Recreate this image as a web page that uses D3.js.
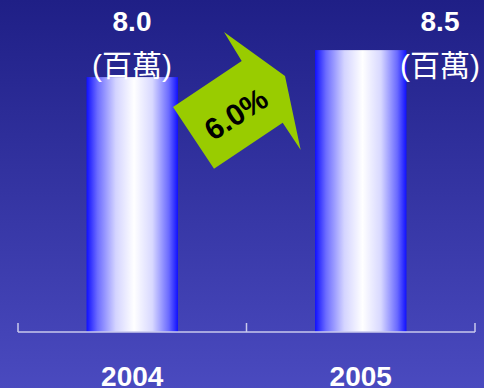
<!DOCTYPE html>
<html><head><meta charset="utf-8">
<script src="https://cdn.jsdelivr.net/npm/d3@7"></script>
<style>html,body{margin:0;padding:0;overflow:hidden;}svg{display:block;}</style>
</head><body>
<script>
const years = ["2004", "2005"];
const values = [8.0, 8.5];
const valueLabels = ["8.0", "8.5"];
const unitLabel = "(百萬)";
const growthLabel = "6.0%";

const W = 484, H = 388;
const svg = d3.select("body").append("svg").attr("width", W).attr("height", H);
const defs = svg.append("defs");
const bg = defs.append("linearGradient").attr("id", "bg").attr("x1", 0).attr("y1", 0).attr("x2", 0).attr("y2", 1);
bg.append("stop").attr("offset", "0%").attr("stop-color", "#1f1f86");
bg.append("stop").attr("offset", "100%").attr("stop-color", "#4a4abf");
const bar = defs.append("linearGradient").attr("id", "bar").attr("x1", 0).attr("y1", 0).attr("x2", 1).attr("y2", 0);
[["0%", "#1010ff"], ["12%", "#6c6cff"], ["32%", "#d4d4ff"], ["52%", "#ffffff"], ["72%", "#d8d8ff"], ["90%", "#6a6aff"], ["100%", "#1010ff"]]
  .forEach(([o, c]) => bar.append("stop").attr("offset", o).attr("stop-color", c));

svg.append("rect").attr("width", W).attr("height", H).attr("fill", "url(#bg)");

const x = d3.scaleBand().domain(years).range([18, 475]).paddingInner(0.6).paddingOuter(0.3);
const y = d3.scaleLinear().domain([3.28, 9.0]).range([332, 23.1]);

svg.selectAll("rect.bar").data(values).join("rect").attr("class", "bar")
  .attr("x", (d, i) => x(years[i]))
  .attr("y", d => y(d))
  .attr("width", x.bandwidth())
  .attr("height", d => y.range()[0] - y(d))
  .attr("fill", "url(#bar)");

// axis
const axis = svg.append("g").attr("stroke", "#c9c9ec").attr("stroke-width", 1.5).attr("fill", "none");
axis.append("line").attr("x1", 18).attr("x2", 475).attr("y1", 332).attr("y2", 332);
const tickXs = [18, x(years[0]) + x.bandwidth() / 2 + x.step() / 2, 475];
axis.selectAll("line.t").data(tickXs).join("line").attr("class", "t")
  .attr("x1", d => d).attr("x2", d => d).attr("y1", 323).attr("y2", 332);

// year labels
svg.selectAll("text.yr").data(years).join("text").attr("class", "yr")
  .attr("x", d => x(d) + x.bandwidth() / 2)
  .attr("y", 386)
  .attr("text-anchor", "middle")
  .attr("font-family", "Liberation Sans, Arial, sans-serif")
  .attr("font-weight", "bold").attr("font-size", 28).attr("fill", "#ffffff")
  .text(d => d);

// value labels
const labelX = [132, 440];
svg.selectAll("text.val").data(valueLabels).join("text").attr("class", "val")
  .attr("x", (d, i) => labelX[i]).attr("y", 31)
  .attr("text-anchor", "middle")
  .attr("font-family", "Liberation Sans, Arial, sans-serif")
  .attr("font-weight", "bold").attr("font-size", 28).attr("fill", "#ffffff")
  .text(d => d);
const unitText = svg.selectAll("text.unit").data(valueLabels).join("text").attr("class", "unit")
  .attr("x", (d, i) => labelX[i]).attr("y", 76)
  .attr("text-anchor", "middle")
  .attr("font-size", 30).attr("fill", "#ffffff");
unitText.append("tspan").attr("font-family", "Liberation Sans, Arial, sans-serif").text(unitLabel.slice(0, 1));
unitText.append("tspan").attr("font-family", "Noto Sans CJK TC, sans-serif").text(unitLabel.slice(1, -1));
unitText.append("tspan").attr("font-family", "Liberation Sans, Arial, sans-serif").text(unitLabel.slice(-1));

// growth arrow
const arrowPts = [[173, 107], [241.7, 61], [224, 32], [285, 76], [300.7, 150], [282.7, 122.7], [214, 168.7]];
svg.append("polygon").attr("points", arrowPts.map(p => p.join(",")).join(" ")).attr("fill", "#99cc00");
svg.append("text")
  .attr("transform", "translate(236,114) rotate(-33)")
  .attr("text-anchor", "middle")
  .attr("font-family", "Liberation Sans, Arial, sans-serif")
  .attr("font-weight", "bold").attr("font-size", 30).attr("fill", "#000000")
  .attr("dy", "0.35em")
  .text(growthLabel);
</script>
</body></html>
